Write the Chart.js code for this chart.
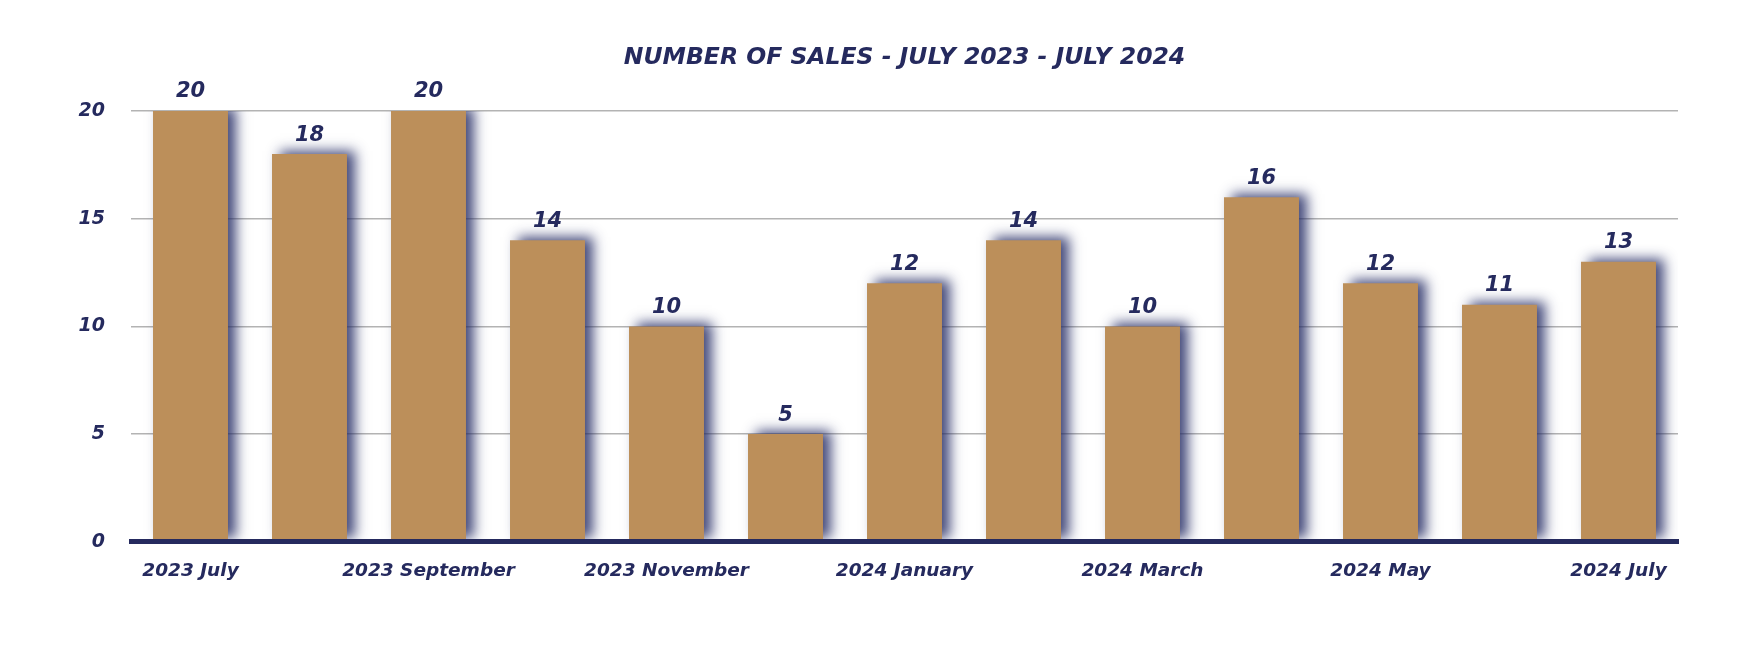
<!DOCTYPE html>
<html>
<head>
<meta charset="utf-8">
<script src="https://cdn.jsdelivr.net/npm/chart.js@4"></script>
<style>
  html, body { margin: 0; padding: 0; background: #fff; }
  #wrap { width: 1760px; height: 660px; }
</style>
</head>
<body>
<div id="wrap"><canvas id="sales"></canvas></div>
<script>
const MONTHS = [
  '2023 July', '2023 August', '2023 September', '2023 October', '2023 November', '2023 December',
  '2024 January', '2024 February', '2024 March', '2024 April', '2024 May', '2024 June', '2024 July',
];
const SALES = [20, 18, 20, 14, 10, 5, 12, 14, 10, 16, 12, 11, 13];
const Y_TICKS = [0, 5, 10, 15, 20];

const NAVY = '#252a5e';
const GOLD = '#bc8f5a';
const FONT = '"DejaVu Sans", sans-serif';

// dark blurred shadow behind the bars
const barShadow = {
  id: 'barShadow',
  beforeDatasetDraw(chart) {
    const ctx = chart.ctx;
    ctx.save();
    ctx.shadowColor = 'rgba(35,42,100,0.85)';
    ctx.shadowBlur = 12;
    ctx.shadowOffsetX = 8;
    ctx.shadowOffsetY = -3;
  },
  afterDatasetDraw(chart) { chart.ctx.restore(); },
};

// value above each bar
const valueLabels = {
  id: 'valueLabels',
  afterDatasetsDraw(chart) {
    const ctx = chart.ctx;
    const meta = chart.getDatasetMeta(0);
    ctx.save();
    ctx.font = 'italic bold 21px ' + FONT;
    ctx.fillStyle = NAVY;
    ctx.textAlign = 'center';
    ctx.textBaseline = 'middle';
    meta.data.forEach((bar, i) => {
      ctx.fillText(SALES[i], bar.x, bar.y - 19);
    });
    ctx.restore();
  },
};

new Chart(document.getElementById('sales'), {
  type: 'bar',
  data: {
    labels: MONTHS,
    datasets: [{
      data: SALES,
      backgroundColor: GOLD,
      borderWidth: 0,
      barPercentage: 0.7,
      categoryPercentage: 0.9,
    }],
  },
  options: {
    responsive: true,
    maintainAspectRatio: false,
    animation: false,
    layout: { padding: { left: 52, right: 82, top: 0, bottom: 60 } },
    plugins: {
      legend: { display: false },
      tooltip: { enabled: false },
      title: {
        display: true,
        fullSize: false,
        text: 'NUMBER OF SALES - JULY 2023 - JULY 2024',
        color: NAVY,
        font: { family: FONT, size: 23.5, style: 'italic', weight: 'bold', lineHeight: 1.2 },
        padding: { top: 43.9, bottom: 38.9 },
      },
    },
    scales: {
      x: {
        grid: { display: false, drawTicks: false },
        border: { display: true, color: NAVY, width: 5, z: 1 },
        ticks: {
          color: NAVY,
          autoSkip: false,
          maxRotation: 0,
          padding: 18,
          font: { family: FONT, size: 18.5, style: 'italic', weight: 'bold' },
          callback: (v, i) => (i % 2 === 0 ? MONTHS[i] : ''),
        },
      },
      y: {
        min: Y_TICKS[0],
        max: Y_TICKS[Y_TICKS.length - 1],
        afterFit: s => { s.width = 79; },
        afterBuildTicks: s => { s.ticks = Y_TICKS.map(v => ({ value: v })); },
        grid: { color: '#b3b3b3', lineWidth: 1.5, drawTicks: false },
        border: { display: false },
        ticks: {
          color: NAVY,
          padding: 26,
          font: { family: FONT, size: 19, style: 'italic', weight: 'bold' },
        },
      },
    },
  },
  plugins: [barShadow, valueLabels],
});
</script>
</body>
</html>
